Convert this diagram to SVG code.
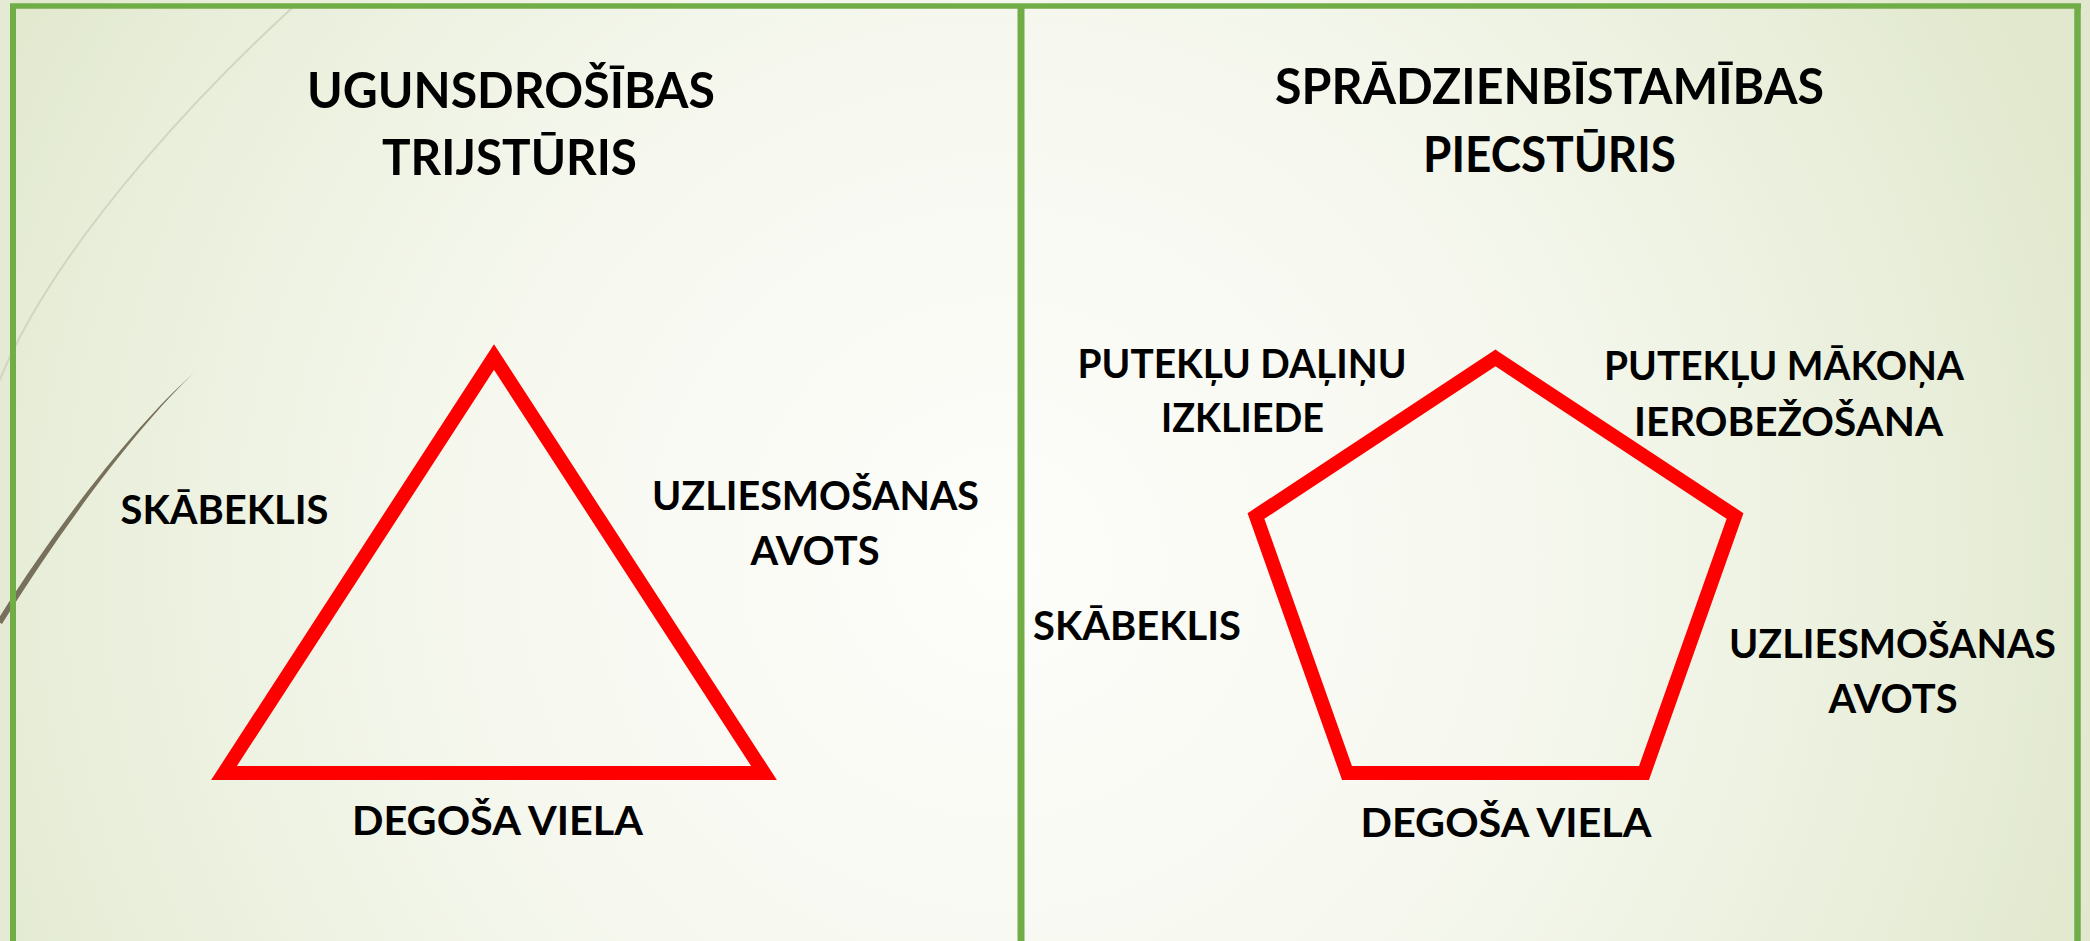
<svg xmlns="http://www.w3.org/2000/svg" width="2090" height="941" viewBox="0 0 2090 941">
  <defs>
    <radialGradient id="bg" cx="1000" cy="560" r="1150" gradientUnits="userSpaceOnUse">
      <stop offset="0" stop-color="#fdfdfa"/>
      <stop offset="0.45" stop-color="#f6f8ef"/>
      <stop offset="0.8" stop-color="#e9efdb"/>
      <stop offset="1" stop-color="#e1e8cd"/>
    </radialGradient>
    <style>
      .frame { stroke: #70ad47; fill: none; }
      .fig { fill: none; stroke: #ff0000; stroke-width: 14; stroke-linejoin: miter; stroke-miterlimit: 10; }
      .title { font-family: Lato, "Open Sans", sans-serif; font-weight: 700; font-size: 50px; fill: #000; text-anchor: middle; }
      .lbl { font-family: Lato, "Open Sans", sans-serif; font-weight: 700; font-size: 41px; fill: #000; text-anchor: middle; }
    </style>
  </defs>

  <rect x="0" y="0" width="2090" height="941" fill="url(#bg)"/>
  <rect x="0" y="0" width="12" height="941" fill="#e4ead3"/>

  <!-- decorative curves -->
  <path d="M 292 8 C 230 65, 60 230, -2 384" fill="none" stroke="#d3d5c2" stroke-width="2"/>
  <path d="M 194 373 C 140 420, 60 520, -3 621 L 2 624 C 64 524, 142 421, 194 373 Z" fill="#77705a"/>

  <!-- frame -->
  <g id="frame">
    <line class="frame" x1="10" y1="6" x2="2081" y2="6" stroke-width="5.5"/>
    <line class="frame" x1="13" y1="4" x2="13" y2="941" stroke-width="6"/>
    <line class="frame" x1="2077.5" y1="4" x2="2077.5" y2="941" stroke-width="6.5"/>
    <line class="frame" x1="1021" y1="6" x2="1021" y2="941" stroke-width="7"/>
  </g>

  <!-- left panel: fire triangle -->
  <g id="fire-triangle">
    <g id="title-left">
      <text class="title" x="511" y="108" textLength="408" lengthAdjust="spacingAndGlyphs">UGUNSDROŠĪBAS</text>
      <text class="title" x="509.5" y="175" textLength="255" lengthAdjust="spacingAndGlyphs">TRIJSTŪRIS</text>
    </g>
    <polygon id="triangle" class="fig" points="494,357 224,773 764,773"/>
    <g id="tri-oxidizer"><text class="lbl" x="224.5" y="524" textLength="208" lengthAdjust="spacingAndGlyphs">SKĀBEKLIS</text></g>
    <g id="tri-ignition">
      <text class="lbl" x="815.5" y="510" textLength="327" lengthAdjust="spacingAndGlyphs">UZLIESMOŠANAS</text>
      <text class="lbl" x="815" y="565" textLength="129" lengthAdjust="spacingAndGlyphs">AVOTS</text>
    </g>
    <g id="tri-fuel"><text class="lbl" x="497.5" y="835" textLength="291" lengthAdjust="spacingAndGlyphs">DEGOŠA VIELA</text></g>
  </g>

  <!-- right panel: explosion pentagon -->
  <g id="explosion-pentagon">
    <g id="title-right">
      <text class="title" x="1549.5" y="104" textLength="549" lengthAdjust="spacingAndGlyphs">SPRĀDZIENBĪSTAMĪBAS</text>
      <text class="title" x="1549.5" y="172" textLength="253" lengthAdjust="spacingAndGlyphs">PIECSTŪRIS</text>
    </g>
    <polygon id="pentagon" class="fig" points="1495.5,358 1735,516 1644,773 1347,773 1256,516"/>
    <g id="pent-dispersion">
      <text class="lbl" x="1242" y="378" textLength="329" lengthAdjust="spacingAndGlyphs">PUTEKĻU DAĻIŅU</text>
      <text class="lbl" x="1242.5" y="432" textLength="163" lengthAdjust="spacingAndGlyphs">IZKLIEDE</text>
    </g>
    <g id="pent-confinement">
      <text class="lbl" x="1784" y="380" textLength="360" lengthAdjust="spacingAndGlyphs">PUTEKĻU MĀKOŅA</text>
      <text class="lbl" x="1788.5" y="436" textLength="309" lengthAdjust="spacingAndGlyphs">IEROBEŽOŠANA</text>
    </g>
    <g id="pent-oxidizer"><text class="lbl" x="1137" y="640" textLength="208" lengthAdjust="spacingAndGlyphs">SKĀBEKLIS</text></g>
    <g id="pent-ignition">
      <text class="lbl" x="1892.5" y="658" textLength="327" lengthAdjust="spacingAndGlyphs">UZLIESMOŠANAS</text>
      <text class="lbl" x="1893" y="713" textLength="129" lengthAdjust="spacingAndGlyphs">AVOTS</text>
    </g>
    <g id="pent-fuel"><text class="lbl" x="1506" y="837" textLength="291" lengthAdjust="spacingAndGlyphs">DEGOŠA VIELA</text></g>
  </g>

  <g id="connectors"/>
</svg>
